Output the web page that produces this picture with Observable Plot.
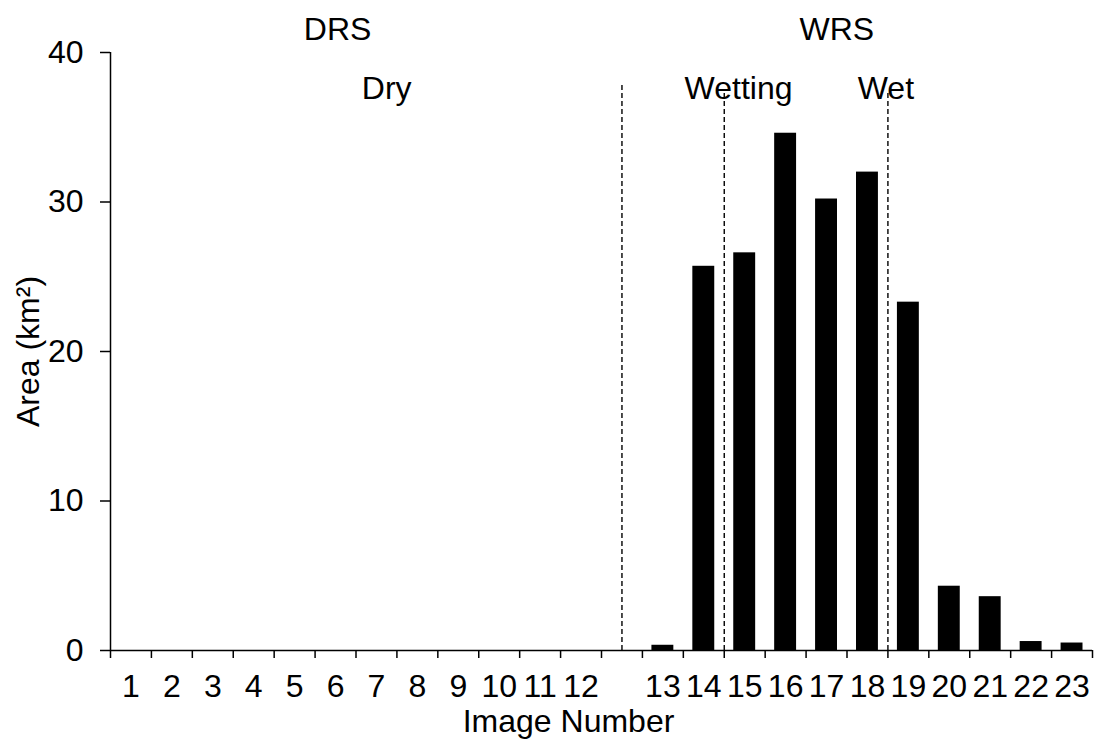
<!DOCTYPE html>
<html>
<head>
<meta charset="utf-8">
<script src="https://cdn.jsdelivr.net/npm/d3@7"></script>
<script src="https://cdn.jsdelivr.net/npm/@observablehq/plot@0.6"></script>
<style>
  html, body { margin: 0; padding: 0; background: #ffffff; }
  #chart svg { display: block; }
</style>
</head>
<body>
<div id="chart"></div>
<script>
// Category labels along the x axis (blank slot separates the dry images from the wet ones)
const imageLabels = ["1","2","3","4","5","6","7","8","9","10","11","12","","13","14","15","16","17","18","19","20","21","22","23"];
// Area (km²) per category (null for the blank slot)
const areaValues = [0,0,0,0,0,0,0,0,0,0,0,0,null,0.35,25.7,26.6,34.6,30.2,32.0,23.3,4.3,3.6,0.6,0.5];
// Y axis ticks
const yTicks = [0, 10, 20, 30, 40];
// Phase dividers (position in category units, top in km²)
const dividerPos = [12.5, 15, 19];
const dividerTop = [37.8, 37.3, 37.3];
// Annotations: text, x in category units, y in km²
const noteText = ["DRS", "WRS", "Dry", "Wetting", "Wet"];
const noteX = [5.55, 17.75, 6.75, 15.35, 18.95];
const noteY = [41.5, 41.5, 37.6, 37.6, 37.6];

const bars = imageLabels.map((label, i) => ({label, i, value: areaValues[i]})).filter(d => d.value != null);
const dividers = dividerPos.map((x, k) => ({x, top: dividerTop[k]}));
const notes = noteText.map((t, k) => ({t, x: noteX[k], y: noteY[k]}));
const n = imageLabels.length;
const FS = 32;

const chart = Plot.plot({
  width: 1097,
  height: 742,
  marginTop: 52,
  marginBottom: 92,
  marginLeft: 110,
  marginRight: 5,
  style: {fontFamily: "'Liberation Sans', Arial, sans-serif", fontSize: FS + "px", color: "black", background: "white", overflow: "visible"},
  x: {type: "linear", domain: [0, n]},
  y: {domain: [0, 40]},
  marks: [
    Plot.rectY(bars, {x1: d => d.i, x2: d => d.i + 1, y1: 0, y2: "value", fill: "black", insetLeft: 9.5, insetRight: 9.5}),
    Plot.ruleX(dividers, {x: "x", y1: 0, y2: "top", stroke: "black", strokeWidth: 1.4, strokeDasharray: "5,3"}),
    Plot.text(notes, {x: "x", y: "y", text: "t", fontSize: FS, fill: "black", clip: false}),
    // axis lines
    Plot.ruleY([0], {stroke: "black", strokeWidth: 1.5}),
    Plot.ruleX([0], {stroke: "black", strokeWidth: 1.5}),
    // x boundary tick marks
    Plot.axisX(d3.range(0, n + 1), {tickSize: 8, tickFormat: () => "", label: null, strokeWidth: 1.5}),
    // x category labels at band centers
    Plot.axisX(imageLabels.map((l, i) => i + 0.5), {tickSize: 0, tickPadding: 24, tickFormat: d => imageLabels[Math.round(d - 0.5)], label: null, fontSize: FS}),
    Plot.axisY(yTicks, {tickSize: 10, tickPadding: 17, label: "Area (km²)", labelAnchor: "center", labelArrow: "none", labelOffset: 94, fontSize: FS, strokeWidth: 1.5}),
    Plot.text(["Image Number"], {frameAnchor: "bottom", dy: 81, dx: -33, text: d => d, fontSize: FS, fill: "black"})
  ]
});
document.getElementById("chart").appendChild(chart);
</script>
</body>
</html>
